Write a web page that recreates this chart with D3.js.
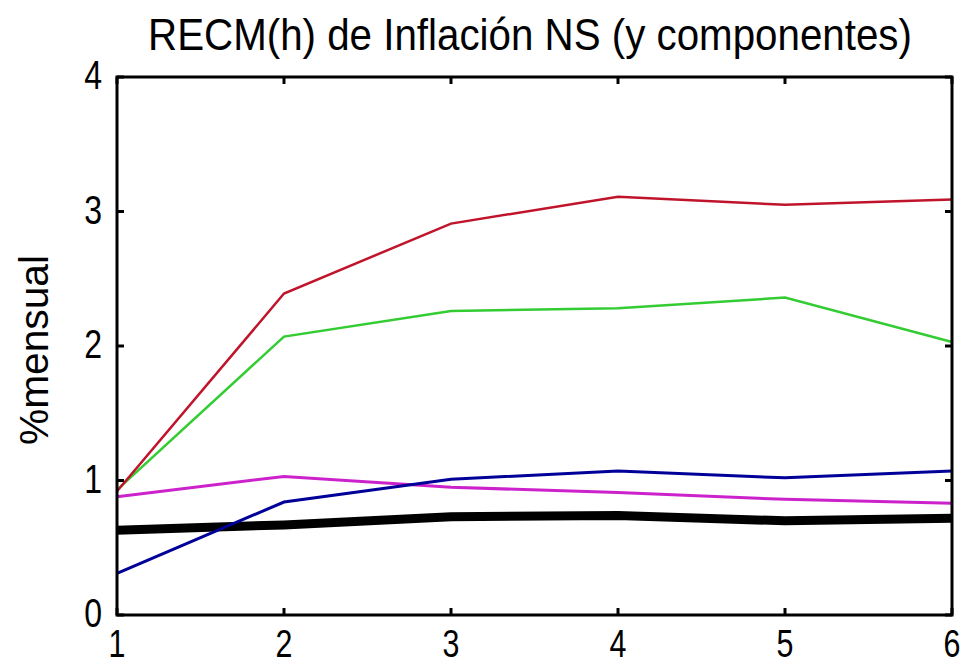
<!DOCTYPE html>
<html>
<head>
<meta charset="utf-8">
<script src="https://cdn.jsdelivr.net/npm/d3@7"></script>
<style>
  body { margin: 0; background: #fff; }
  text { font-family: 'Liberation Sans', Arial, sans-serif; fill: #000; }
</style>
</head>
<body>
<svg></svg>
<script>
let horizons = [1, 2, 3, 4, 5, 6]
let yTicks = [0, 1, 2, 3, 4]

let redValues = [0.92, 2.39, 2.91, 3.11, 3.05, 3.09]
let greenValues = [0.93, 2.07, 2.26, 2.28, 2.36, 2.03]
let magentaValues = [0.88, 1.03, 0.95, 0.91, 0.86, 0.83]
let blueValues = [0.31, 0.84, 1.01, 1.07, 1.02, 1.07]
let blackValues = [0.63, 0.67, 0.73, 0.74, 0.70, 0.72]

let width = 963
let height = 667
let plotLeft = 117
let plotRight = 952
let plotTop = 77
let plotBottom = 615

let svg = d3.select('svg')
svg.attr('width', width)
svg.attr('height', height)

let xScale = d3.scaleLinear().domain([1, 6]).range([plotLeft, plotRight])
let yScale = d3.scaleLinear().domain([0, 4]).range([plotBottom, plotTop])

let series = [
  { values: blackValues, color: '#000000', w: 9 },
  { values: magentaValues, color: '#cc22cc', w: 3 },
  { values: blueValues, color: '#000099', w: 3 },
  { values: greenValues, color: '#33cc33', w: 2.5 },
  { values: redValues, color: '#c0142b', w: 2.5 }
]

let line = d3.line()
  .x((d, i) => xScale(horizons[i]))
  .y((d) => yScale(d))

series.forEach((s) => {
  svg.append('path')
    .datum(s.values)
    .attr('d', line)
    .attr('fill', 'none')
    .attr('stroke', s.color)
    .attr('stroke-width', s.w)
})

// box
svg.append('rect')
  .attr('x', plotLeft)
  .attr('y', plotTop)
  .attr('width', plotRight - plotLeft)
  .attr('height', plotBottom - plotTop)
  .attr('fill', 'none')
  .attr('stroke', '#000')
  .attr('stroke-width', 3)

// inward ticks
let tl = 7
horizons.forEach((h) => {
  let x = xScale(h)
  svg.append('line').attr('x1', x).attr('x2', x).attr('y1', plotBottom).attr('y2', plotBottom - tl).attr('stroke', '#000').attr('stroke-width', 3)
  svg.append('line').attr('x1', x).attr('x2', x).attr('y1', plotTop).attr('y2', plotTop + tl).attr('stroke', '#000').attr('stroke-width', 3)
  svg.append('text')
    .attr('transform', 'translate(' + x + ',' + (plotBottom + 42) + ') scale(0.8,1)')
    .style('text-anchor', 'middle')
    .style('font-size', '38px')
    .text(h)
})

yTicks.forEach((t) => {
  let y = yScale(t)
  svg.append('line').attr('x1', plotLeft).attr('x2', plotLeft + tl).attr('y1', y).attr('y2', y).attr('stroke', '#000').attr('stroke-width', 3)
  svg.append('line').attr('x1', plotRight).attr('x2', plotRight - tl).attr('y1', y).attr('y2', y).attr('stroke', '#000').attr('stroke-width', 3)
  svg.append('text')
    .attr('transform', 'translate(' + (plotLeft - 15) + ',' + (y + 12) + ') scale(0.8,1)')
    .style('text-anchor', 'end')
    .style('font-size', '40px')
    .text(t)
})

svg.append('text')
  .attr('transform', 'translate(48,' + 350 + ') rotate(-90)')
  .style('text-anchor', 'middle')
  .style('font-size', '40px')
  .attr('textLength', 190)
  .attr('lengthAdjust', 'spacingAndGlyphs')
  .text('%mensual')

// title: squeeze horizontally to the reference width
let title = svg.append('text')
  .style('text-anchor', 'middle')
  .style('font-size', '44px')
  .text('RECM(h) de Inflación NS (y componentes)')
let natural = title.node().getComputedTextLength()
title.attr('transform', 'translate(530,50) scale(' + (764 / natural) + ',1)')
</script>
</body>
</html>
